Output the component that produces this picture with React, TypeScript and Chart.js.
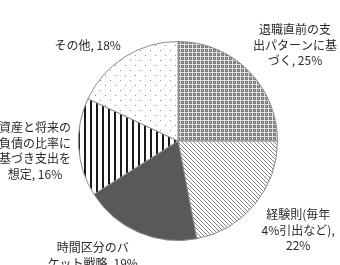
import React, { useEffect, useRef } from "react";
import { Chart, registerables } from "chart.js";

Chart.register(...registerables);

const categories = [
  "退職直前の支\n出パターンに基\nづく",
  "経験則(毎年\n4%引出など)",
  "時間区分のバ\nケット戦略",
  "資産と将来の\n負債の比率に\n基づき支出を\n想定",
  "その他",
];
const values = [25, 22, 19, 16, 18];
const separators = [", ", ",\n", ", ", ", ", ", "];

// label layout: radial factor and fine offsets (px)
const LABEL_FACTOR = 1.45;
const LABEL_OFFSETS: [number, number][] = [
  [15, 6],
  [9, -3],
  [-28, -18],
  [1, 1],
  [-13, 26],
];

function makeTile(w: number, h: number, draw: (c: CanvasRenderingContext2D) => void) {
  const cv = document.createElement("canvas");
  cv.width = w;
  cv.height = h;
  const c = cv.getContext("2d")!;
  draw(c);
  const p = document.createElement("canvas").getContext("2d")!.createPattern(cv, "repeat");
  return p as CanvasPattern;
}

function makePatterns() {
  const grid = makeTile(4, 4, (c) => {
    c.fillStyle = "#7a7a7a";
    c.fillRect(0, 0, 4, 4);
    c.fillStyle = "#e2e2e2";
    c.fillRect(0, 0, 4, 1);
    c.fillRect(0, 0, 1, 4);
    c.fillStyle = "#b0b0b0";
    c.fillRect(2, 2, 1, 1);
  });
  const diag = makeTile(4, 4, (c) => {
    c.fillStyle = "#ffffff";
    c.fillRect(0, 0, 4, 4);
    c.fillStyle = "#858585";
    for (let i = 0; i < 4; i++) c.fillRect(i, i, 1, 1);
  });
  const dark = "#595959";
  const vert = makeTile(6, 6, (c) => {
    c.fillStyle = "#ffffff";
    c.fillRect(0, 0, 6, 6);
    c.fillStyle = "#1a1a1a";
    c.fillRect(0, 0, 2, 6);
  });
  const dots = makeTile(10, 10, (c) => {
    c.fillStyle = "#ffffff";
    c.fillRect(0, 0, 10, 10);
    c.fillStyle = "#8a8a8a";
    c.fillRect(0, 0, 1, 1);
    c.fillRect(5, 5, 1, 1);
  });
  return [grid, diag, dark, vert, dots];
}

const labelPlugin = {
  id: "outerLabels",
  afterDraw(chart: any) {
    const ctx = chart.ctx as CanvasRenderingContext2D;
    const meta = chart.getDatasetMeta(0);
    ctx.save();
    ctx.font = '12px "Noto Sans CJK JP", sans-serif';
    ctx.fillStyle = "#2a2a2a";
    ctx.textAlign = "center";
    ctx.textBaseline = "middle";
    const lineH = 15.5;
    meta.data.forEach((arc: any, i: number) => {
      const { x, y, startAngle, endAngle, outerRadius } = arc.getProps(
        ["x", "y", "startAngle", "endAngle", "outerRadius"],
        true
      );
      const mid = (startAngle + endAngle) / 2;
      const d = outerRadius * LABEL_FACTOR;
      const cx = x + Math.cos(mid) * d + LABEL_OFFSETS[i][0];
      const cy = y + Math.sin(mid) * d + LABEL_OFFSETS[i][1];
      const text = categories[i] + separators[i] + values[i] + "%";
      const lines = text.split("\n");
      const top = cy - ((lines.length - 1) * lineH) / 2;
      lines.forEach((ln, j) => ctx.fillText(ln, cx, top + j * lineH));
    });
    ctx.restore();
  },
};

export default function App() {
  const ref = useRef<HTMLCanvasElement>(null);
  useEffect(() => {
    const chart = new Chart(ref.current!, {
      type: "pie",
      data: {
        labels: categories,
        datasets: [
          {
            data: values,
            backgroundColor: makePatterns() as any,
            borderColor: "#8a8a8a",
            borderWidth: 1,
          },
        ],
      },
      options: {
        responsive: false,
        animation: false,
        layout: { padding: { left: 78, right: 62, top: 41, bottom: 24 } },
        plugins: {
          legend: { display: false },
          tooltip: { enabled: false },
        },
      },
      plugins: [labelPlugin],
    });
    return () => chart.destroy();
  }, []);
  return (
    <div style={{ position: "fixed", left: 0, top: 0, width: 340, height: 265, background: "#fff" }}>
      <canvas ref={ref} width={340} height={265} />
    </div>
  );
}
